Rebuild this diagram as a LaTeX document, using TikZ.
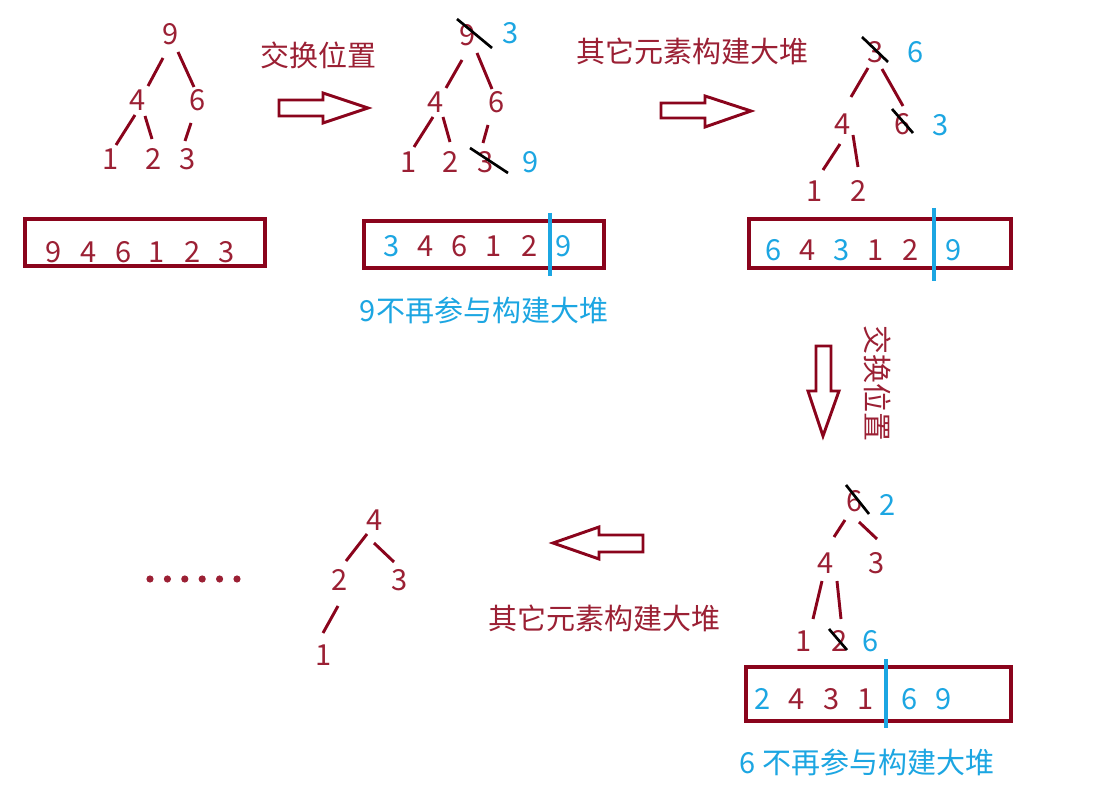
\documentclass[tikz,border=0pt]{standalone}
\usepackage{fontspec}
\setmainfont{Noto Sans CJK SC}
\usetikzlibrary{calc}
\definecolor{txtred}{RGB}{155,32,52}
\definecolor{linered}{RGB}{138,4,28}
\definecolor{skyblue}{RGB}{28,166,226}
\begin{document}
\begin{tikzpicture}[x=0.75pt,y=-0.75pt,
  every node/.style={inner sep=0pt,font=\fontsize{21.75}{26}\selectfont},
  rt/.style={text=txtred},
  bt/.style={text=skyblue},
  edge/.style={draw=linered,line width=2.2pt},
  strike/.style={draw=black,line width=2pt},
  arraybox/.style={draw=linered,line width=2.4pt},
  divider/.style={draw=skyblue,line width=2.6pt},
  hollow/.style={draw=linered,line width=2.2pt,fill=white,line join=miter}]
\useasboundingbox[fill=white] (0,0) rectangle (1118,791);

% ---------- Tree 1 ----------
\node[rt] (a9) at (171,34) {9};
\node[rt] (a4) at (138,100) {4};
\node[rt] (a6) at (198,100) {6};
\node[rt] (a1) at (111,159) {1};
\node[rt] (a2) at (154,159) {2};
\node[rt] (a3) at (188,159) {3};
\draw[edge] ($(a9)+(-8,24)$) -- ($(a4)+(10,-14)$);
\draw[edge] ($(a9)+(7,18)$) -- ($(a6)+(-4,-13)$);
\draw[edge] ($(a4)+(-3,15)$) -- ($(a1)+(5,-14)$);
\draw[edge] ($(a4)+(7,16)$) -- ($(a2)+(-2,-20)$);
\draw[edge] ($(a6)+(-7,23)$) -- ($(a3)+(-3,-18)$);

\draw[arraybox] (25,219) rectangle (265,266);
\node[rt] (b1) at (54,252) {9};
\node[rt] (b2) at (89,252) {4};
\node[rt] (b3) at (124,252) {6};
\node[rt] (b4) at (157,252) {1};
\node[rt] (b5) at (193,252) {2};
\node[rt] (b6) at (227,252) {3};

\node[rt] (lab1) at (318,55) {交换位置};
\draw[hollow] (279,100) -- (323,100) -- (323,93) -- (368,108) -- (323,123) -- (323,116) -- (279,116) -- cycle;

% ---------- Tree 2 ----------
\node[rt] (c9) at (468,35) {9};
\node[bt] (c9n) at (511,33) {3};
\node[rt] (c4) at (436,102) {4};
\node[rt] (c6) at (497,102) {6};
\node[rt] (c1) at (409,162) {1};
\node[rt] (c2) at (451,162) {2};
\node[rt] (c3) at (486,162) {3};
\node[bt] (c3n) at (531,162) {9};
\draw[strike] (457,19) -- (492,48);
\draw[strike] (470,148) -- (508,173);
\draw[edge] ($(c9)+(-6,25)$) -- ($(c4)+(10,-14)$);
\draw[edge] ($(c9)+(9,18)$) -- ($(c6)+(-5,-13)$);
\draw[edge] ($(c4)+(-3,15)$) -- ($(c1)+(5,-15)$);
\draw[edge] ($(c4)+(7,15)$) -- ($(c2)+(-1,-20)$);
\draw[edge] ($(c6)+(-9,23)$) -- ($(c3)+(-3,-19)$);

\draw[arraybox] (364,221) rectangle (604,268);
\node[bt] (d1) at (392,246) {3};
\node[rt] (d2) at (426,246) {4};
\node[rt] (d3) at (460,246) {6};
\node[rt] (d4) at (494,246) {1};
\node[rt] (d5) at (530,246) {2};
\node[bt] (d6) at (564,246) {9};
\draw[divider] (550,213) -- (550,276);
\node[bt] (note1) at (484,310) {9不再参与构建大堆};

\node[rt] (lab2) at (692,51) {其它元素构建大堆};
\draw[hollow] (661,103) -- (705,103) -- (705,96) -- (751,111) -- (705,127) -- (705,118) -- (661,118) -- cycle;

% ---------- Tree 3 ----------
\node[rt] (e3) at (876,52) {3};
\node[bt] (e3n) at (916,52) {6};
\node[rt] (e4) at (843,124) {4};
\node[rt] (e6) at (903,124) {6};
\node[bt] (e6n) at (941,125) {3};
\node[rt] (e1) at (815,191) {1};
\node[rt] (e2) at (859,191) {2};
\draw[strike] (862,37) -- (888,62);
\draw[strike] (892,109) -- (913,133);
\draw[edge] ($(e3)+(-8,16)$) -- ($(e4)+(8,-27)$);
\draw[edge] ($(e3)+(6,17)$) -- ($(e6)+(0,-18)$);
\draw[edge] ($(e4)+(-3,20)$) -- ($(e1)+(8,-21)$);
\draw[edge] ($(e4)+(10,11)$) -- ($(e2)+(-1,-24)$);

\draw[arraybox] (749,219) rectangle (1011,268);
\node[bt] (f1) at (774,250) {6};
\node[rt] (f2) at (808,250) {4};
\node[bt] (f3) at (842,250) {3};
\node[rt] (f4) at (876,250) {1};
\node[rt] (f5) at (911,250) {2};
\node[bt] (f6) at (954,250) {9};
\draw[divider] (934,208) -- (934,281);

\draw[hollow] (816,346) -- (831,346) -- (831,391) -- (839,391) -- (823,436) -- (808,391) -- (816,391) -- cycle;
\node[rt,rotate=-90] (lab3) at (878,384) {交换位置};

% ---------- Tree 4 ----------
\node[rt] (g6) at (855,501) {6};
\node[bt] (g6n) at (888,505) {2};
\node[rt] (g4) at (826,563) {4};
\node[rt] (g3) at (877,563) {3};
\node[rt] (g1) at (804,641) {1};
\node[rt] (g2) at (840,641) {2};
\node[bt] (g2n) at (871,641) {6};
\draw[strike] (846,485) -- (869,514);
\draw[strike] (829,629) -- (847,650);
\draw[edge] ($(g6)+(-10,19)$) -- ($(g4)+(8,-26)$);
\draw[edge] ($(g6)+(4,21)$) -- ($(g3)+(0,-24)$);
\draw[edge] ($(g4)+(-4,18)$) -- ($(g1)+(9,-22)$);
\draw[edge] ($(g4)+(11,18)$) -- ($(g2)+(1,-22)$);

\draw[arraybox] (746,667) rectangle (1011,721);
\node[bt] (h1) at (763,699) {2};
\node[rt] (h2) at (797,699) {4};
\node[rt] (h3) at (832,699) {3};
\node[rt] (h4) at (866,699) {1};
\node[bt] (h5) at (910,699) {6};
\node[bt] (h6) at (944,699) {9};
\draw[divider] (886,659) -- (886,728);
\node[bt] (note2) at (867,762) {6 不再参与构建大堆};

% ---------- Tree 5 ----------
\draw[hollow] (553,543) -- (599,527) -- (599,535) -- (643,535) -- (643,552) -- (599,552) -- (599,559) -- cycle;
\node[rt] (lab4) at (604,618) {其它元素构建大堆};

\node[rt] (k4) at (375,520) {4};
\node[rt] (k2) at (340,580) {2};
\node[rt] (k3) at (400,580) {3};
\node[rt] (k1) at (324,655) {1};
\draw[edge] ($(k4)+(-8,14)$) -- ($(k2)+(6,-19)$);
\draw[edge] ($(k4)+(-1,23)$) -- ($(k3)+(-6,-18)$);
\draw[edge] ($(k2)+(-2,26)$) -- ($(k1)+(-1,-22)$);

\foreach \i in {0,...,5}
  \fill[txtred] ({150+17.4*\i},579) circle (3.6);
\end{tikzpicture}
\end{document}
